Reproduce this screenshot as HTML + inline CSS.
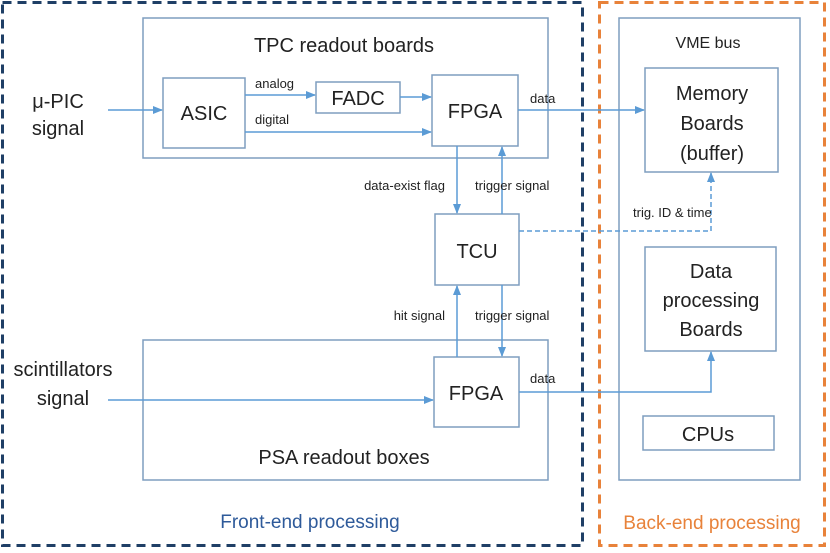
<!DOCTYPE html>
<html><head><meta charset="utf-8"><style>
body{margin:0;background:#fff;}
svg{display:block;font-family:"Liberation Sans",sans-serif;}
</style></head><body>
<svg width="830" height="553" viewBox="0 0 830 553" xmlns="http://www.w3.org/2000/svg">
<defs>
<marker id="a" markerWidth="10" markerHeight="8" refX="9" refY="4" orient="auto" markerUnits="userSpaceOnUse">
<path d="M0,0 L10,4 L0,8 z" fill="#5b9bd5"/></marker>
</defs>
<rect x="2.5" y="2.5" width="580" height="543" fill="none" stroke="#1f3f66" stroke-width="3" stroke-dasharray="9,6"/>
<rect x="599.5" y="2.5" width="225" height="543" fill="none" stroke="#e8823a" stroke-width="3" stroke-dasharray="9,6"/>
<g fill="none" stroke="#7f9dbf" stroke-width="1.5">
<rect x="143" y="18" width="405" height="140"/>
<rect x="163" y="78" width="82" height="70"/>
<rect x="316" y="82" width="84" height="31"/>
<rect x="432" y="75" width="86" height="71"/>
<rect x="619" y="18" width="181" height="462"/>
<rect x="645" y="68" width="133" height="104"/>
<rect x="645" y="247" width="131" height="104"/>
<rect x="643" y="416" width="131" height="34"/>
<rect x="435" y="214" width="84" height="71"/>
<rect x="143" y="340" width="405" height="140"/>
<rect x="434" y="357" width="85" height="70"/>
</g>
<g fill="none" stroke="#5b9bd5" stroke-width="1.5">
<path d="M108 110 H162" marker-end="url(#a)"/>
<path d="M245 95 H315" marker-end="url(#a)"/>
<path d="M400 97 H431" marker-end="url(#a)"/>
<path d="M245 132 H431" marker-end="url(#a)"/>
<path d="M518 110 H644" marker-end="url(#a)"/>
<path d="M457 146 V213" marker-end="url(#a)"/>
<path d="M502 214 V147" marker-end="url(#a)"/>
<path d="M457 357 V286" marker-end="url(#a)"/>
<path d="M502 285 V356" marker-end="url(#a)"/>
<path d="M108 400 H433" marker-end="url(#a)"/>
<path d="M519 392 H711 V352" marker-end="url(#a)"/>
<path d="M519 231 H711 V173" stroke-dasharray="5,3" marker-end="url(#a)"/>
</g>
<g fill="#222" font-size="20" text-anchor="middle">
<text x="344" y="52">TPC readout boards</text>
<text x="204" y="120">ASIC</text>
<text x="358" y="105">FADC</text>
<text x="475" y="118">FPGA</text>
<text x="477" y="258">TCU</text>
<text x="476" y="400">FPGA</text>
<text x="344" y="464">PSA readout boxes</text>
<text x="712" y="100">Memory</text>
<text x="712" y="130">Boards</text>
<text x="712" y="160">(buffer)</text>
<text x="711" y="278">Data</text>
<text x="711" y="307">processing</text>
<text x="711" y="336">Boards</text>
<text x="708" y="441">CPUs</text>
<text x="58" y="108">μ-PIC</text>
<text x="58" y="135">signal</text>
<text x="63" y="376">scintillators</text>
<text x="63" y="405">signal</text>
</g>
<text x="708" y="48" font-size="16" text-anchor="middle" fill="#222">VME bus</text>
<g fill="#222" font-size="13">
<text x="255" y="88">analog</text>
<text x="255" y="124">digital</text>
<text x="530" y="103">data</text>
<text x="530" y="383">data</text>
<text x="445" y="190" text-anchor="end">data-exist flag</text>
<text x="475" y="190">trigger signal</text>
<text x="445" y="320" text-anchor="end">hit signal</text>
<text x="475" y="320">trigger signal</text>
<text x="633" y="217">trig. ID &amp; time</text>
</g>
<text x="310" y="528" font-size="19" text-anchor="middle" fill="#2e5a9a">Front-end processing</text>
<text x="712" y="529" font-size="19" text-anchor="middle" fill="#e8823a">Back-end processing</text>
</svg>
</body></html>
